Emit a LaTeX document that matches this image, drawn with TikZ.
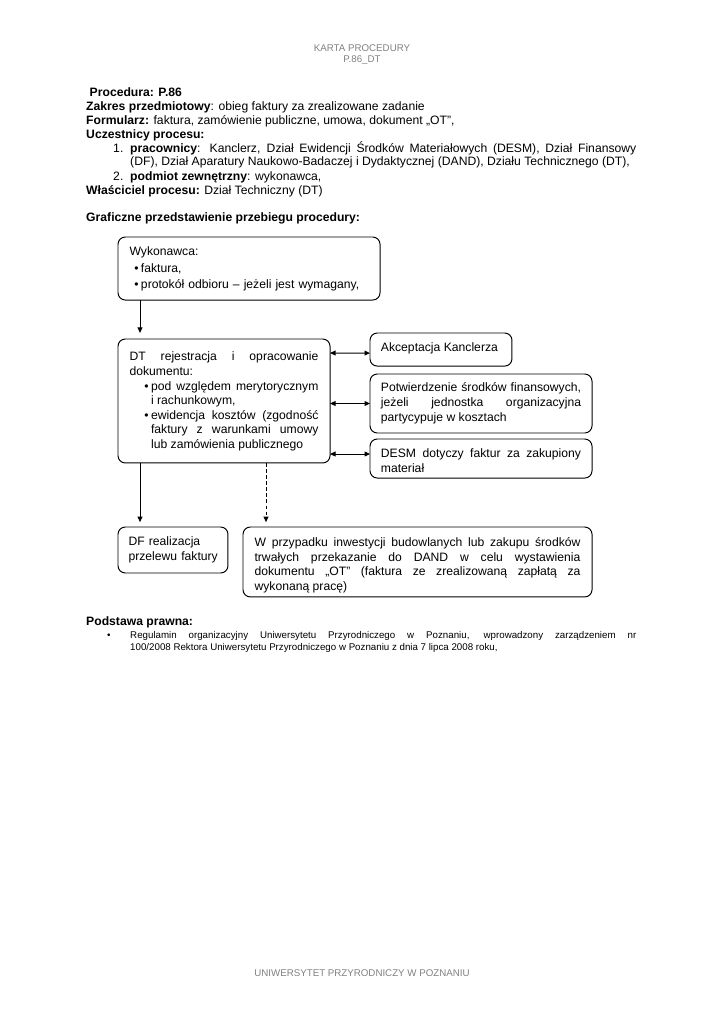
\documentclass[tikz,border=0pt]{standalone}
\usepackage{fontspec}
\setmainfont{Liberation Sans}
\usepackage{tikz}
\usetikzlibrary{arrows.meta,calc}
\definecolor{headgray}{RGB}{128,128,128}
\newcommand{\pkt}[2]{\par\noindent\hangindent=#1\hangafter=1\makebox[#1][r]{\textbullet\hspace{2pt}}#2}

\begin{document}
\begin{tikzpicture}[x=0.822pt,y=-0.822pt,
    >={Triangle[length=4.5pt,width=4pt]},
    txt/.style={anchor=base west,inner sep=0pt,font=\fontsize{10}{11.5}\selectfont},
    grey/.style={anchor=base,inner sep=0pt,text=headgray,font=\fontsize{8}{9}\selectfont},
    box/.style={draw,rounded corners=6pt,line width=0.8pt,anchor=north west,inner ysep=0pt,outer sep=0pt,align=justify,font=\fontsize{10}{12}\selectfont},
    con/.style={line width=0.8pt}]
    \useasboundingbox (0,0) rectangle (724,1024);

    %% header and footer
    \node[grey] (karta) at (362,51.5) {KARTA PROCEDURY};
    \node[grey] (kod) at (362,62.5) {P.86\_DT};
    \node[grey] (stopka) at (362,976) {UNIWERSYTET PRZYRODNICZY W POZNANIU};

    %% text above the chart
    \node[txt] (proc) at (89.5,96) {\textbf{Procedura: P.86}};
    \node[txt] (zakres) at (86,110) {\textbf{Zakres przedmiotowy}: obieg faktury za zrealizowane zadanie};
    \node[txt] (form) at (86,124) {\textbf{Formularz:} faktura, zamówienie publiczne, umowa, dokument „OT",};
    \node[txt] (uczest) at (86,138) {\textbf{Uczestnicy procesu:}};
    \node[txt] (nr1) at (113,152) {1.};
    \node[txt,text width=416pt,align=justify] (prac) at (130,152) {\textbf{pracownicy}: Kanclerz, Dział Ewidencji Środków Materiałowych (DESM), Dział Finansowy\linebreak (DF), Dział Aparatury Naukowo-Badaczej i Dydaktycznej (DAND), Działu Technicznego (DT),};
    \node[txt] (nr2) at (113,180) {2.};
    \node[txt] (podm) at (130,180) {\textbf{podmiot zewnętrzny}: wykonawca,};
    \node[txt] (wlasc) at (86,194) {\textbf{Właściciel procesu:} Dział Techniczny (DT)};
    \node[txt] (graf) at (86,221) {\textbf{Graficzne przedstawienie przebiegu procedury:}};

    %% boxes
    \node[box,align=left,text width=196.4pt,inner xsep=9.5pt,text height=15.6pt,text depth=36.2pt,font=\fontsize{10}{13.2}\selectfont] (wyk) at (118,237)
        {Wykonawca:\pkt{9.4pt}{faktura,}\pkt{9.4pt}{protokół odbioru – jeżeli jest wymagany,}\par};
    \node[box,text width=155.3pt,inner xsep=9.5pt,text height=18pt,text depth=83.9pt] (dt) at (118,339)
        {DT rejestracja i opracowanie\linebreak dokumentu:\pkt{17.7pt}{pod względem merytorycznym\linebreak i rachunkowym,}\pkt{17.7pt}{ewidencja kosztów (zgodność\linebreak faktury z warunkami umowy\linebreak lub zamówienia publicznego}\par};
    \node[box,text width=98.7pt,inner xsep=9pt,text height=15.6pt,text depth=11.6pt] (ak) at (370,333) {Akceptacja Kanclerza};
    \node[box,text width=164.5pt,inner xsep=9pt,text height=14.4pt,text depth=34.1pt,font=\fontsize{10}{12.3}\selectfont] (pf) at (370,374)
        {Potwierdzenie środków finansowych,\linebreak jeżeli jednostka organizacyjna\linebreak partycypuje w kosztach};
    \node[box,text width=164.5pt,inner xsep=9pt,text height=15.6pt,text depth=16.5pt] (desm) at (370,439)
        {DESM dotyczy faktur za zakupiony\linebreak materiał};
    \node[box,align=left,text width=73pt,inner xsep=8.7pt,text height=15.4pt,text depth=22.4pt] (df) at (118,527)
        {DF realizacja\\\mbox{przelewu faktury}};
    \node[box,text width=267.9pt,inner xsep=9.5pt,text height=16.2pt,text depth=41.3pt] (ot) at (243,527)
        {W przypadku inwestycji budowlanych lub zakupu środków\linebreak trwałych przekazanie do DAND w celu wystawienia\linebreak dokumentu „OT" (faktura ze zrealizowaną zapłatą za\linebreak wykonaną pracę)};

    %% arrows
    \draw[con,->,shorten >=5pt] ($(wyk.south west)+(22,0)$) -- ($(dt.north west)+(22,0)$);
    \draw[con,<->] ($(dt.north east)+(0,14)$) -- ($(ak.south west)+(0,-13)$);
    \draw[con,<->] (pf.west -| dt.east) -- (pf.west);
    \draw[con,<->] ($(dt.north east)+(0,115)$) -- ($(desm.north west)+(0,15)$);
    \draw[con,->,shorten >=4pt] ($(dt.south west)+(22,0)$) -- ($(df.north west)+(22,0)$);
    \draw[con,->,dash pattern=on 3pt off 2pt,shorten >=4pt] ($(dt.south west)+(148,0)$) -- ($(ot.north west)+(23,0)$);

    %% legal basis
    \node[txt] (podst) at (86,625) {\textbf{Podstawa prawna:}};
    \node[txt,font=\fontsize{8}{9.9}\selectfont] (kropka) at (107,638) {\textbullet};
    \node[txt,text width=416pt,align=justify,font=\fontsize{8}{9.9}\selectfont] (regul) at (130,638)
        {Regulamin organizacyjny Uniwersytetu Przyrodniczego w Poznaniu, wprowadzony zarządzeniem nr\linebreak 100/2008 Rektora Uniwersytetu Przyrodniczego w Poznaniu z dnia 7 lipca 2008 roku,};
\end{tikzpicture}
\end{document}
